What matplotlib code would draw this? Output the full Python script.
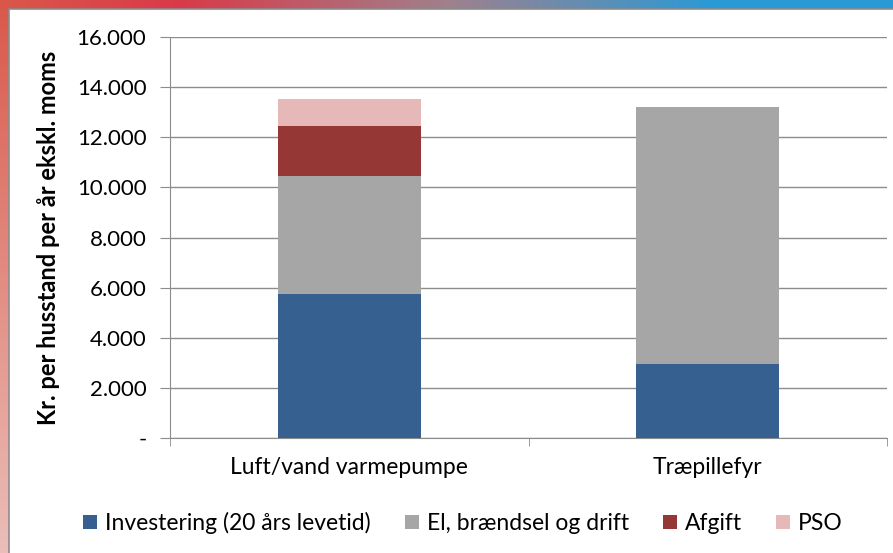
import numpy as np
import matplotlib
matplotlib.use('Agg')
import matplotlib.pyplot as plt
from matplotlib.patches import Rectangle

plt.rcParams['font.family'] = ['Lato', 'DejaVu Sans']

# data (kr. per husstand per år)
kategorier = ['Luft/vand varmepumpe', 'Træpillefyr']
investering = [5750, 2950]
el_braendsel = [4710, 10260]
afgift = [2000, 0]
pso = [1070, 0]

serier = ['Investering (20 års levetid)', 'El, brændsel og drift', 'Afgift', 'PSO']
farver = ['#35608F', '#A6A6A6', '#953735', '#E6B9B8']

W, H = 893, 553
fig = plt.figure(figsize=(W / 100, H / 100), dpi=100)

# baggrund med farveovergang (top og venstre kant)
bg = fig.add_axes([0, 0, 1, 1])
bg.set_axis_off()
xs = np.linspace(0, 1, W)
top_stops = [0, 0.2, 0.5, 0.8, 1]
top_cols = np.array([[217, 88, 74], [217, 58, 73], [160, 128, 140], [42, 154, 214], [42, 154, 214]]) / 255
top = np.stack([np.interp(xs, top_stops, top_cols[:, i]) for i in range(3)], axis=1)
ys = np.linspace(0, 1, H)
left_cols = np.array([[217, 88, 74], [226, 140, 130], [235, 190, 185]]) / 255
left = np.stack([np.interp(ys, [0, 0.5, 1], left_cols[:, i]) for i in range(3)], axis=1)
img = np.ones((H, W, 3))
img[:, :] = left[:, None, :]
img[:10, :] = top[None, :, :]
bg.imshow(img, aspect='auto', extent=[0, W, H, 0])
bg.add_patch(Rectangle((9, 9), W, H, facecolor='white', edgecolor='#8c8c8c', lw=1.2))
bg.set_xlim(0, W)
bg.set_ylim(H, 0)

ax = fig.add_axes([170 / W, 1 - 438 / H, (887 - 170) / W, (438 - 37) / H])
x = np.arange(len(kategorier))
bund = np.zeros(len(kategorier))
for vals, navn, farve in zip([investering, el_braendsel, afgift, pso], serier, farver):
    ax.bar(x, vals, width=0.4, bottom=bund, color=farve, label=navn, zorder=3)
    bund += np.array(vals)

ax.set_xlim(-0.5, 1.5)
ax.set_ylim(0, 16000)
ax.set_yticks(range(0, 16001, 2000))
ax.set_yticklabels(['-'] + [f'{v:,}'.replace(',', '.') for v in range(2000, 16001, 2000)])
ax.yaxis.grid(True, color='#8c8c8c', lw=1, zorder=0)
ax.set_xticks(x)
ax.set_xticklabels(kategorier)
ax.set_xticks([-0.5, 0.5, 1.5], minor=True)
ax.tick_params(axis='x', which='major', length=0, pad=14, labelsize=16.5)
ax.tick_params(axis='x', which='minor', length=6, color='#8c8c8c')
ax.tick_params(axis='y', length=7, color='#8c8c8c', labelsize=16, pad=10)
for s in ['top', 'right']:
    ax.spines[s].set_visible(False)
for s in ['left', 'bottom']:
    ax.spines[s].set_color('#8c8c8c')
ax.set_ylabel('Kr. per husstand per år ekskl. moms', fontsize=17, fontweight='bold', labelpad=12)

fig.legend(loc='center', bbox_to_anchor=(463 / W, 1 - 523 / H), ncol=4, frameon=False,
           fontsize=16.5, handlelength=0.6, handleheight=0.6, handletextpad=0.35, columnspacing=1.5)

fig.savefig('out.png', dpi=100)
